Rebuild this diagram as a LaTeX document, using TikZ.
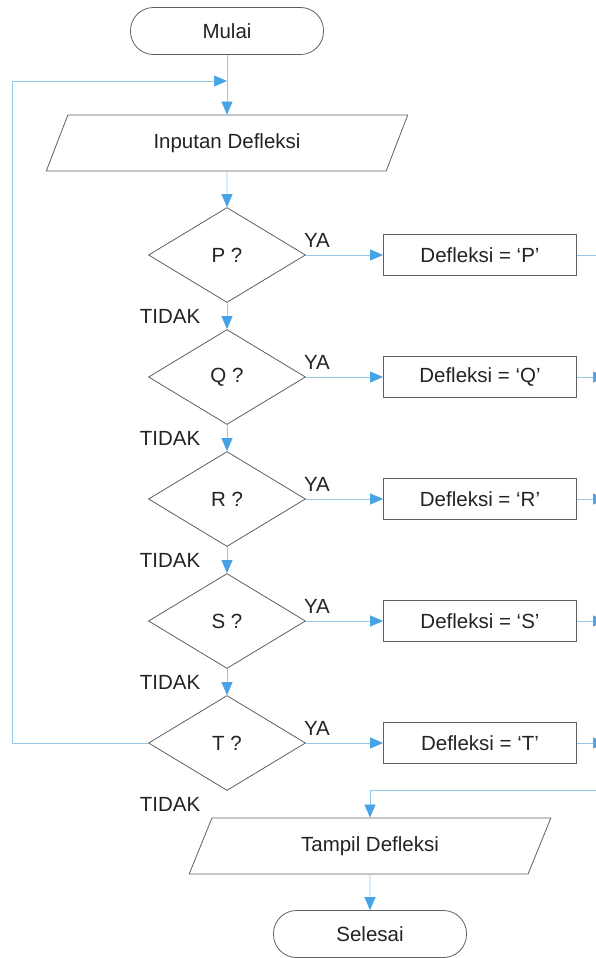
\documentclass[tikz,border=0pt]{standalone}
\usepackage{fontspec}
\setmainfont{Liberation Sans}
\usetikzlibrary{positioning, arrows.meta, shapes.geometric}

\definecolor{flowline}{RGB}{150,200,235}
\definecolor{flowtip}{RGB}{72,163,230}
\definecolor{shapeline}{RGB}{95,95,95}
\definecolor{textgray}{RGB}{35,35,35}

\begin{document}
\begin{tikzpicture}[
        x=1pt, y=-1pt,
        font=\fontsize{20.5}{24}\selectfont,
        text=textgray,
        >={Triangle[length=13pt, width=11pt, color=flowtip]},
        conn/.style={draw=flowline, line width=0.7pt},
        terminal/.style={draw=shapeline, line width=0.8pt, rectangle, rounded corners=23pt, minimum width=193pt, minimum height=47pt},
        io/.style={draw=shapeline, line width=0.8pt, trapezium, trapezium left angle=68, trapezium right angle=112, trapezium stretches=true, minimum width=362pt, minimum height=56pt},
        decision/.style={draw=shapeline, line width=0.8pt, diamond, aspect=1.65, minimum width=157pt, minimum height=95pt, inner sep=0pt},
        process/.style={draw=shapeline, line width=0.8pt, rectangle, minimum width=193pt, minimum height=41pt},
    ]
    \useasboundingbox (0,0) rectangle (595,958);

        % Start and input
        \node[terminal] (mulai) at (227,31) {Mulai};
        \node[io] (input) at (227,143) {Inputan Defleksi};

        % Draw the decisions and their results
        \foreach \name / \y in {P/255,Q/377,R/499,S/621,T/743} {
            \node[decision] (d-\name) at (227,\y) {\name\ ?};
            \node[process] (b-\name) at (480,\y) {Defleksi = ‘\name’};
            \node (ya-\name) at (317,\y-15) {YA};
            \node (tidak-\name) at (170,\y+61) {TIDAK};
            \coordinate (out-\name) at (606,\y);
        }

        % Output and end
        \node[io] (tampil) at (370,846) {Tampil Defleksi};
        \node[terminal] (selesai) at (370,934) {Selesai};

        \coordinate (loop-in) at (227,81);
        \coordinate (loop-corner) at (12,743);
        \coordinate (feed-in) at (606,790);

        % Main flow
        \draw[conn,->] (mulai) -- (input);
        \draw[conn,->] (input) -- (d-P);
        \foreach \source / \dest in {P/Q,Q/R,R/S,S/T}
            \draw[conn,->] (d-\source) -- (d-\dest);

        % YA branches
        \foreach \name in {P,Q,R,S,T}
            \draw[conn,->] (d-\name) -- (b-\name);
        \draw[conn] (b-P) -- (out-P);
        \foreach \name in {Q,R,S,T}
            \draw[conn,->] (b-\name) -- (out-\name);

        % Back to the input when no value fits
        \draw[conn,->] (d-T.west) -- (loop-corner) |- (loop-in);

        % Results collected into the output
        \draw[conn,->] (feed-in) -| (tampil.north);
        \draw[conn,->] (tampil) -- (selesai);
    \end{tikzpicture}
\end{document}
